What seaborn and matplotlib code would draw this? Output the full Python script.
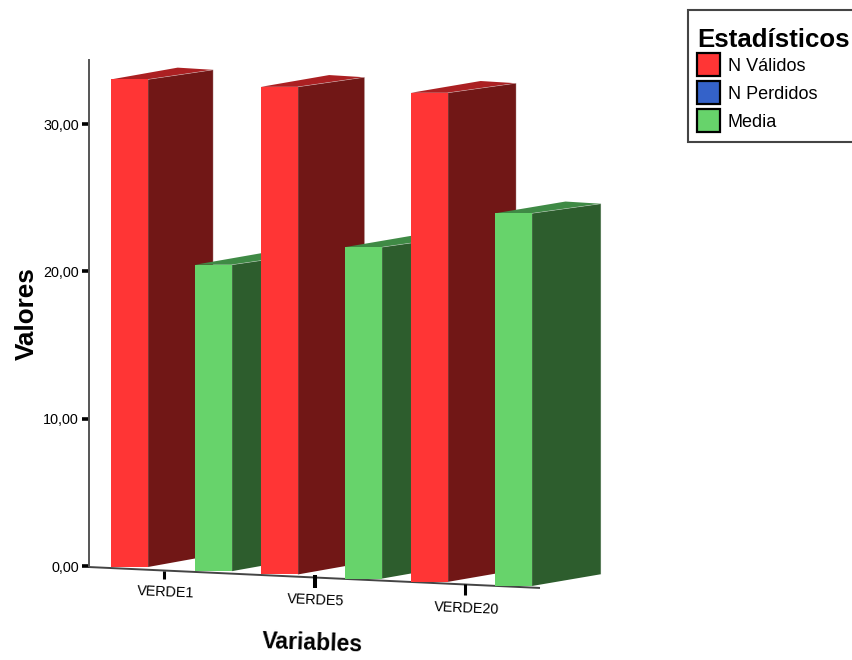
import matplotlib
matplotlib.use("Agg")
import matplotlib.pyplot as plt
import matplotlib.patches as mpatches
import matplotlib.transforms as mtrans
import pandas as pd
import seaborn as sns

# Statistics per variable
variables = ["VERDE1", "VERDE5", "VERDE20"]
series_names = ["N Válidos", "N Perdidos", "Media"]
n_validos = [33.1, 33.1, 33.2]
n_perdidos = [0.0, 0.0, 0.0]
media = [20.8, 22.5, 25.3]
y_ticks = [0, 10, 20, 30]
y_tick_labels = ["0,00", "10,00", "20,00", "30,00"]

# Colours: front, side and top face for each series
front = {"N Válidos": "#FF3535", "N Perdidos": "#3462C9", "Media": "#67D36B"}
side = {"#FF3535": "#711716", "#67D36B": "#2D5D2D"}
top = {"#FF3535": "#AB2022", "#67D36B": "#3F8A45"}

sns.set_theme(style="white")
plt.rcParams["font.family"] = ["Liberation Sans", "DejaVu Sans"]

W, H = 852, 660
fig = plt.figure(figsize=(W / 100, H / 100), dpi=100, facecolor="white")
ax = fig.add_axes([89 / W, (H - 566) / H, 451 / W, 506 / H])

df = pd.DataFrame({
    "Variable": variables * 3,
    "Serie": sum([[n] * 3 for n in series_names], []),
    "Valor": n_validos + n_perdidos + media,
})
sns.barplot(data=df, x="Variable", y="Valor", hue="Serie", hue_order=series_names,
            palette=front, saturation=1, width=0.84, gap=0.12, ax=ax)
handles, labels = ax.get_legend_handles_labels()
ax.get_legend().remove()

x_lim = (-0.55, 2.457)
ax.set_xlim(*x_lim)
ax.set_ylim(0, 34.35)


# The floor recedes downwards from left to right
def floor(x):
    return -(0.209 + 0.504 * x)


def axis_floor(x):
    t = (x - x_lim[0]) / (x_lim[1] - x_lim[0])
    return -(0.07 + 1.42 * t)


# Turn every flat bar into a block with a side and a top face
bars = sorted([b for b in ax.patches if b.get_height() > 0], key=lambda b: b.get_x())
edge = (0.85, 0.85, 0.85, 0.55)
for i, bar in enumerate(bars):
    xl, w, h = bar.get_x(), bar.get_width(), bar.get_height()
    xr = xl + w
    base = floor(xl + w / 2)
    peak = base + h
    color = matplotlib.colors.to_hex(bar.get_facecolor()).upper()
    dx = 0.436 + 0.01 * xr
    z = 3 + 2 * i
    bar.set_y(base)
    bar.set_clip_on(False)
    bar.set_zorder(z + 0.5)
    bar.set_linewidth(0)
    ax.fill([xr, xr + dx, xr + dx, xr], [peak, peak + 0.65, base + 0.8, base],
            color=side[color], lw=0, zorder=z, clip_on=False)
    ax.fill([xl, xr, xr + dx, xl + dx + 0.01], [peak, peak, peak + 0.65, peak + 0.8],
            color=top[color], lw=0, zorder=z, clip_on=False)
    ax.plot([xr, xr, xr + dx, xr + dx], [base, peak, peak + 0.65, base + 0.8],
            color=edge, lw=0.45, zorder=z + 0.2, clip_on=False)

# Axis lines
sns.despine(ax=ax, top=True, right=True, bottom=True, left=False)
ax.spines["left"].set_color("#555555")
ax.spines["left"].set_linewidth(1.4)
ax.plot(x_lim, [axis_floor(x_lim[0]), axis_floor(x_lim[1])],
        color="#444444", lw=1.4, zorder=1, clip_on=False, solid_capstyle="butt")

# Value axis
ax.set_yticks(y_ticks, labels=y_tick_labels)
ax.tick_params(axis="y", length=5.2, width=2.6, color="black", pad=2,
               labelsize=10.4, labelcolor="black", left=True)

# Category axis: ticks and labels follow the sloping floor
tick_x = [-0.05, 0.96, 1.957]
tick_gap = [0.0, -0.15, 0.0]
tick_len = [0.6, 0.88, 0.72]
tick_wid = [2.2, 2.9, 2.2]
ax.vlines(tick_x, [axis_floor(x) - g for x, g in zip(tick_x, tick_gap)],
          [axis_floor(x) - g - l for x, g, l in zip(tick_x, tick_gap, tick_len)],
          colors="black", linewidths=tick_wid, zorder=1, clip_on=False)
ax.set_xticks(tick_x, labels=variables)
ax.tick_params(axis="x", length=0, pad=0, labelsize=10.4, labelcolor="black", bottom=False)
label_drop_pts = [18.8, 24.8, 30.2]
label_shift_pts = [1.0, 0.5, 1.5]
for tick_label, drop, shift in zip(ax.get_xticklabels(), label_drop_pts, label_shift_pts):
    tick_label.set_rotation(-2.5)
    tick_label.set_rotation_mode("anchor")
    tick_label.set_va("center")
    tick_label.set_transform(tick_label.get_transform()
                             + mtrans.ScaledTranslation(shift / 72, -drop / 72, fig.dpi_scale_trans))

# Axis titles
ax.set_xlabel("Variables", fontsize=16.6, fontweight="bold", color="black", rotation=-2,
              va="center", ha="center")
ax.xaxis.set_label_coords((312.5 - 89) / 451, (566 - 643) / 506)
ax.set_ylabel("Valores", fontsize=18.8, fontweight="bold", color="black", va="center", ha="center")
ax.yaxis.set_label_coords((27 - 89) / 451, (566 - 314) / 506)

# Legend, with its frame drawn separately so the title can sit low inside it
fig.add_artist(mpatches.Rectangle((688 / W, 1 - 142 / H), 170 / W, 132 / H,
                                  transform=fig.transFigure, facecolor="white",
                                  edgecolor="#444444", linewidth=1.5, zorder=-1))
for handle in handles:
    handle.set_edgecolor("black")
    handle.set_linewidth(1.6)
legend = ax.legend(handles, labels, title="Estadísticos", loc="upper left",
                   bbox_to_anchor=(697 / W, 1 - 28 / H), bbox_transform=fig.transFigure,
                   borderaxespad=0, fontsize=13,
                   title_fontproperties={"size": 18.6, "weight": "bold"},
                   frameon=False, handlelength=1.25, handleheight=1.59, handletextpad=0.45,
                   labelspacing=0.27, borderpad=0)
legend._legend_box.align = "left"
legend._legend_box.sep = 1
legend.set_zorder(20)
for text in legend.get_texts():
    text.set_color("black")
legend.get_title().set_color("black")

fig.savefig("out.png", dpi=100, facecolor="white")
